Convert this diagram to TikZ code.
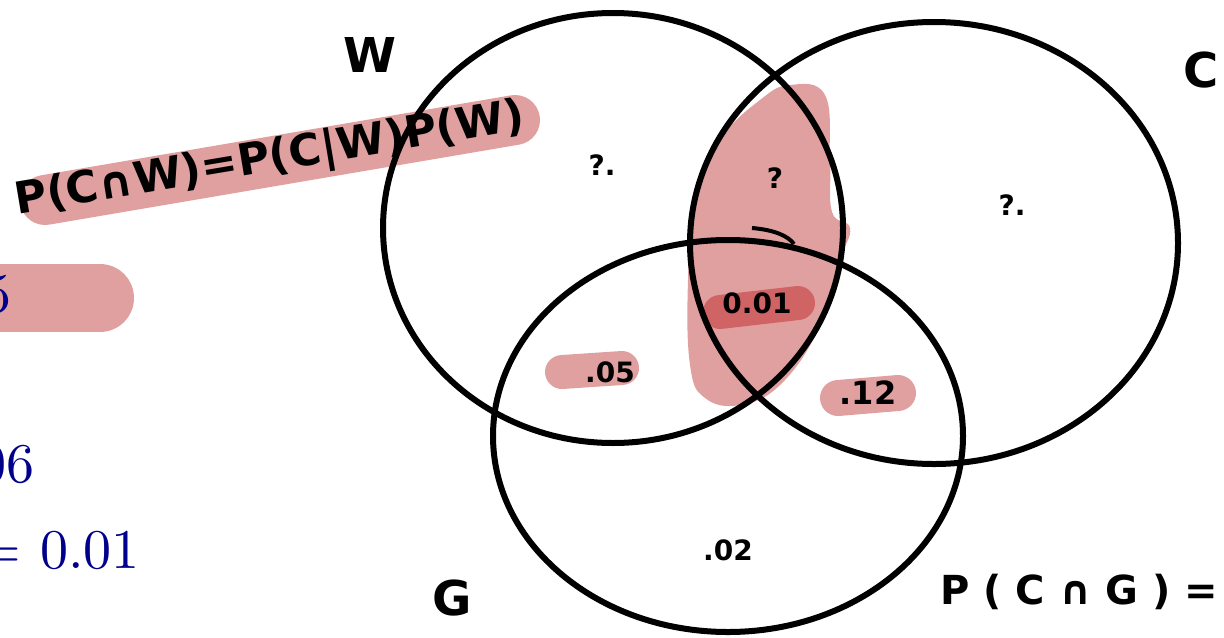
\documentclass[tikz,border=0pt]{standalone}
\usepackage{fontspec}
\newfontfamily\hand{DejaVu Sans}
\newfontfamily\lmten{lmroman10-regular}[Extension=.otf]
\definecolor{hlpink}{RGB}{224,160,160}
\definecolor{hldark}{RGB}{208,100,100}
\definecolor{navyblue}{RGB}{0,0,140}
\begin{document}
\begin{tikzpicture}[x=0.5pt,y=-0.5pt,
  ring/.style={line width=3pt, draw=black},
  hl/.style={draw=hlpink, line cap=round},
  handtxt/.style={font=\hand\bfseries, text=black, inner sep=0pt},
  bluetxt/.style={font=\lmten\fontsize{28}{30}\selectfont, text=navyblue, inner sep=0pt}]
\useasboundingbox (0,0) rectangle (1224,637);
\clip (0,0) rectangle (1224,637);
% highlights
\draw[hl, line width=25pt] (45,200) -- (515,120);
\draw[hl, line width=34pt] (-60,298) -- (100,298);
\fill[hlpink] plot[smooth cycle, tension=0.7] coordinates {(790,85) (825,95) (830,160) (832,212) (850,228) (840,260) (818,330) (780,385) (740,405) (705,398) (690,365) (688,280) (695,200) (720,140) (760,100)};
\draw[hl, line width=17pt] (562,372) -- (622,368);
\draw[hl, line width=18pt] (838,398) -- (898,393);
\draw[draw=hldark, line cap=round, line width=17pt] (720,312) -- (798,303);
% circles
\draw[ring] (613,228) ellipse [x radius=230, y radius=215];
\draw[ring] (934,243) ellipse [x radius=244, y radius=221];
\draw[ring] (728,436) ellipse [x radius=235, y radius=196];
\draw[line width=2pt] (752,228) .. controls (775,230) and (788,236) .. (794,244);
% labels
\node[handtxt, font=\hand\bfseries\fontsize{24}{26}\selectfont] (wlab) at (370,55) {W};
\node[handtxt, font=\hand\bfseries\fontsize{24}{26}\selectfont, anchor=west] (clab) at (1183,70) {C};
\node[handtxt, font=\hand\bfseries\fontsize{24}{26}\selectfont] (glab) at (452,598) {G};
\node[handtxt, font=\hand\bfseries\fontsize{22}{24}\selectfont, rotate=9.5] (formula) at (270,160) {P(C∩W)=P(C|W)P(W)};
\node[handtxt, font=\hand\bfseries\fontsize{20}{22}\selectfont, anchor=west] (pcg) at (940,592) {P ( C ∩ G ) =};
\node[handtxt, font=\hand\bfseries\fontsize{14}{16}\selectfont] (qw) at (602,165) {?.};
\node[handtxt, font=\hand\bfseries\fontsize{14}{16}\selectfont] (qc) at (1012,205) {?.};
\node[handtxt, font=\hand\bfseries\fontsize{14}{16}\selectfont] (qwc) at (775,178) {?};
\node[handtxt, font=\hand\bfseries\fontsize{14}{16}\selectfont] (vwg) at (610,372) {.05};
\node[handtxt, font=\hand\bfseries\fontsize{14}{16}\selectfont] (vall) at (757,303) {0.01};
\node[handtxt, font=\hand\bfseries\fontsize{16}{18}\selectfont] (vcg) at (868,393) {.12};
\node[handtxt, font=\hand\bfseries\fontsize{14}{16}\selectfont] (vg) at (728,550) {.02};
% blue text
\node[bluetxt, anchor=base east] (b1) at (12,312) {5};
\node[bluetxt, anchor=base east] (b2) at (35,482) {06};
\node[bluetxt, anchor=base east] (b3) at (140,568) {= 0.01};
\end{tikzpicture}
\end{document}
